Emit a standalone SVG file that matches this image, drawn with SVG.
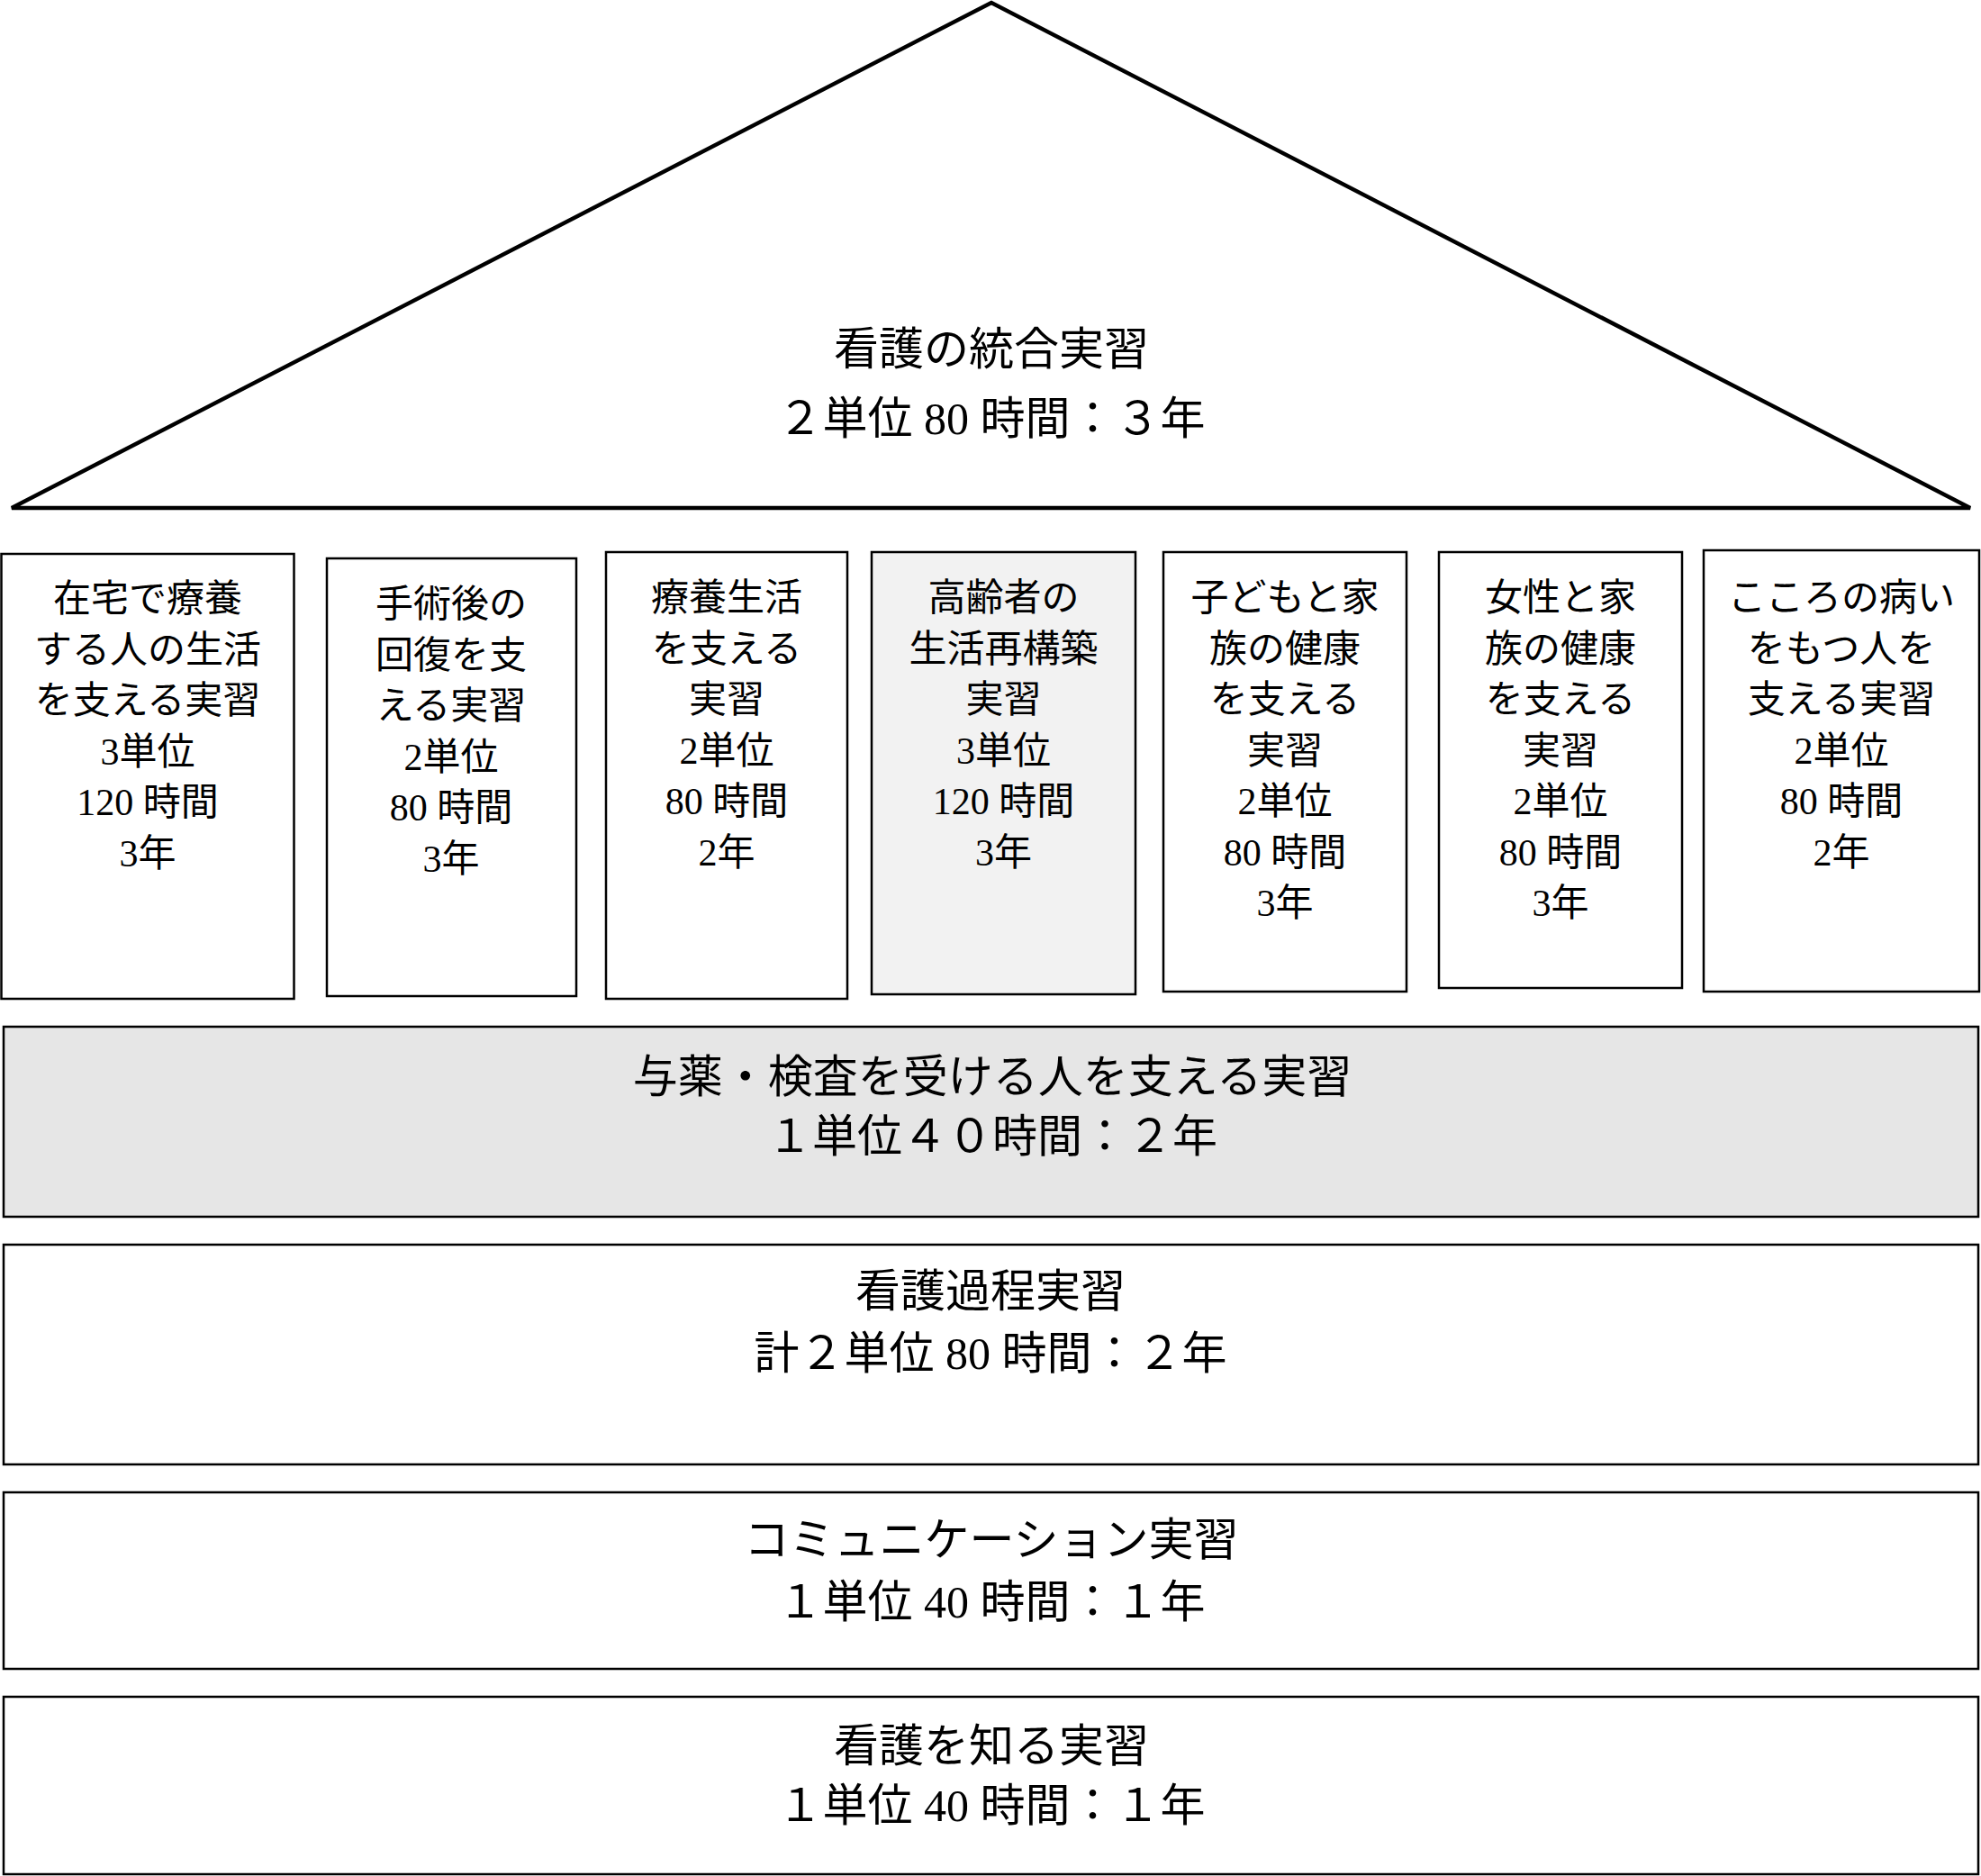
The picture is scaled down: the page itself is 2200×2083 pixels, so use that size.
<svg xmlns="http://www.w3.org/2000/svg" width="2200" height="2083" viewBox="0 0 2200 2083">
<style>
.b{fill:#fff;stroke:#000;stroke-width:2.5}
.t{font-family:"Liberation Serif","Noto Sans CJK JP",serif;fill:#000;text-anchor:middle}
.s{font-size:42px}
.l{font-size:50px}
</style>
<rect x="0" y="0" width="2200" height="2083" fill="#fff"/>
<g id="roof">
<polygon points="1101,3 13,564 2188,564" fill="#fff" stroke="#000" stroke-width="4.5" stroke-linejoin="miter"/>
<text class="t l" x="1101" y="405">看護の統合実習</text>
<text class="t l" x="1101" y="482">２単位 80 時間：３年</text>
</g>
<g id="box1">
<rect class="b" x="1.5" y="615" width="325" height="494"/>
<text class="t s" x="164" y="679">在宅で療養<tspan x="164" dy="56.5">する人の生活</tspan><tspan x="164" dy="56.5">を支える実習</tspan><tspan x="164" dy="56.5">3単位</tspan><tspan x="164" dy="56.5">120 時間</tspan><tspan x="164" dy="56.5">3年</tspan></text>
</g>
<g id="box2">
<rect class="b" x="363" y="620" width="277" height="486"/>
<text class="t s" x="501" y="685">手術後の<tspan x="501" dy="56.5">回復を支</tspan><tspan x="501" dy="56.5">える実習</tspan><tspan x="501" dy="56.5">2単位</tspan><tspan x="501" dy="56.5">80 時間</tspan><tspan x="501" dy="56.5">3年</tspan></text>
</g>
<g id="box3">
<rect class="b" x="673" y="613" width="268" height="496"/>
<text class="t s" x="807" y="678">療養生活<tspan x="807" dy="56.5">を支える</tspan><tspan x="807" dy="56.5">実習</tspan><tspan x="807" dy="56.5">2単位</tspan><tspan x="807" dy="56.5">80 時間</tspan><tspan x="807" dy="56.5">2年</tspan></text>
</g>
<g id="box4">
<rect class="b" x="968" y="613" width="293" height="491" style="fill:#f2f2f2"/>
<text class="t s" x="1114.5" y="678">高齢者の<tspan x="1114.5" dy="56.5">生活再構築</tspan><tspan x="1114.5" dy="56.5">実習</tspan><tspan x="1114.5" dy="56.5">3単位</tspan><tspan x="1114.5" dy="56.5">120 時間</tspan><tspan x="1114.5" dy="56.5">3年</tspan></text>
</g>
<g id="box5">
<rect class="b" x="1292" y="613" width="270" height="488"/>
<text class="t s" x="1427" y="678">子どもと家<tspan x="1427" dy="56.5">族の健康</tspan><tspan x="1427" dy="56.5">を支える</tspan><tspan x="1427" dy="56.5">実習</tspan><tspan x="1427" dy="56.5">2単位</tspan><tspan x="1427" dy="56.5">80 時間</tspan><tspan x="1427" dy="56.5">3年</tspan></text>
</g>
<g id="box6">
<rect class="b" x="1598" y="613" width="270" height="484"/>
<text class="t s" x="1733" y="678">女性と家<tspan x="1733" dy="56.5">族の健康</tspan><tspan x="1733" dy="56.5">を支える</tspan><tspan x="1733" dy="56.5">実習</tspan><tspan x="1733" dy="56.5">2単位</tspan><tspan x="1733" dy="56.5">80 時間</tspan><tspan x="1733" dy="56.5">3年</tspan></text>
</g>
<g id="box7">
<rect class="b" x="1892" y="611" width="306" height="490"/>
<text class="t s" x="2045" y="678">こころの病い<tspan x="2045" dy="56.5">をもつ人を</tspan><tspan x="2045" dy="56.5">支える実習</tspan><tspan x="2045" dy="56.5">2単位</tspan><tspan x="2045" dy="56.5">80 時間</tspan><tspan x="2045" dy="56.5">2年</tspan></text>
</g>
<g id="band1">
<rect class="b" x="4" y="1140" width="2193" height="211" style="fill:#e6e6e6"/>
<text class="t l" x="1102" y="1213">与薬・検査を受ける人を支える実習</text>
<text class="t l" x="1102" y="1279">１単位４０時間：２年</text>
</g>
<g id="band2">
<rect class="b" x="4" y="1382" width="2193" height="244"/>
<text class="t l" x="1100" y="1451">看護過程実習</text>
<text class="t l" x="1100" y="1520">計２単位 80 時間：２年</text>
</g>
<g id="band3">
<rect class="b" x="4" y="1657" width="2193" height="196"/>
<text class="t l" x="1101" y="1727">コミュニケーション実習</text>
<text class="t l" x="1101" y="1796">１単位 40 時間：１年</text>
</g>
<g id="band4">
<rect class="b" x="4" y="1884" width="2193" height="197"/>
<text class="t l" x="1101" y="1956">看護を知る実習</text>
<text class="t l" x="1101" y="2022">１単位 40 時間：１年</text>
</g>
<g id="connectors"/>
</svg>
